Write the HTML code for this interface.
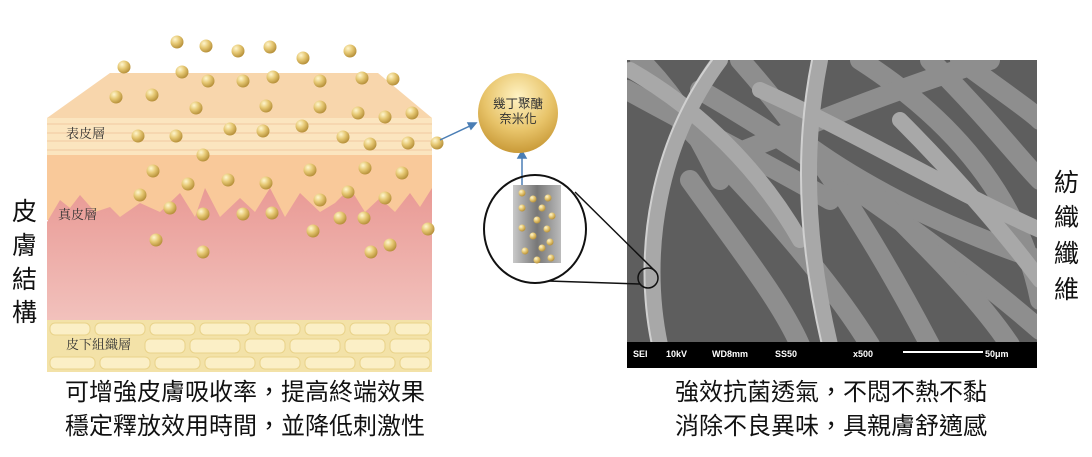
<!DOCTYPE html>
<html><head><meta charset="utf-8"><style>
body{margin:0;background:#fff;}
svg{display:block;}
text{font-family:"Liberation Sans","Noto Sans CJK TC",sans-serif;}
.s{font-family:"Noto Serif CJK SC","Liberation Serif",serif;}
</style></head><body>
<svg width="1092" height="457" viewBox="0 0 1092 457" xmlns="http://www.w3.org/2000/svg">
<defs>
<radialGradient id="b" cx="0.35" cy="0.3" r="0.7"><stop offset="0" stop-color="#fff6cf"/><stop offset="0.5" stop-color="#e6c873"/><stop offset="1" stop-color="#b8923c"/></radialGradient>
<radialGradient id="big" cx="0.5" cy="0.3" r="0.7"><stop offset="0" stop-color="#fff3c4"/><stop offset="0.6" stop-color="#e8c46a"/><stop offset="1" stop-color="#c99a38"/></radialGradient>
<linearGradient id="pk" x1="0" y1="0" x2="0" y2="1"><stop offset="0" stop-color="#e99a95"/><stop offset="1" stop-color="#f2c2bd"/></linearGradient>
<linearGradient id="gr" x1="0" x2="1"><stop offset="0" stop-color="#c9c9c9"/><stop offset="0.5" stop-color="#777"/><stop offset="1" stop-color="#bbb"/></linearGradient>
<clipPath id="sem"><rect x="627" y="60" width="410" height="283"/></clipPath>
</defs>
<polygon points="110,73 378,73 432,118 432,155 47,155 47,118" fill="#f8d6ac"/>
<rect x="47" y="118" width="385" height="37" fill="#fbe5bf"/>
<g stroke="#f2c9a0" stroke-width="1" fill="none"><path d="M47 124H432M47 133H432M47 141H432M47 150H432"/></g>
<rect x="47" y="155" width="385" height="65" fill="#f9c99a"/>
<path d="M47 222 L60 200 70 208 80 195 95 212 110 207 120 217 140 203 160 212 180 193 195 217 205 188 220 217 240 198 255 212 270 188 285 217 300 193 320 212 335 203 350 188 365 212 380 198 395 212 410 193 420 207 432 188 V322 H47Z" fill="url(#pk)"/>
<rect x="47" y="320" width="385" height="52" fill="#f3e2a8"/>
<g fill="#fbefc6" stroke="#e9d38a" stroke-width="1">
<rect x="50" y="323" width="40" height="12" rx="5"/><rect x="95" y="323" width="50" height="12" rx="5"/><rect x="150" y="323" width="45" height="12" rx="5"/><rect x="200" y="323" width="50" height="12" rx="5"/><rect x="255" y="323" width="45" height="12" rx="5"/><rect x="305" y="323" width="40" height="12" rx="5"/><rect x="350" y="323" width="40" height="12" rx="5"/><rect x="395" y="323" width="35" height="12" rx="5"/>
<rect x="145" y="339" width="40" height="14" rx="5"/><rect x="190" y="339" width="50" height="14" rx="5"/><rect x="245" y="339" width="40" height="14" rx="5"/><rect x="290" y="339" width="50" height="14" rx="5"/><rect x="345" y="339" width="40" height="14" rx="5"/><rect x="390" y="339" width="40" height="14" rx="5"/>
<rect x="50" y="357" width="45" height="12" rx="5"/><rect x="100" y="357" width="50" height="12" rx="5"/><rect x="155" y="357" width="45" height="12" rx="5"/><rect x="205" y="357" width="50" height="12" rx="5"/><rect x="260" y="357" width="40" height="12" rx="5"/><rect x="305" y="357" width="50" height="12" rx="5"/><rect x="360" y="357" width="35" height="12" rx="5"/><rect x="400" y="357" width="30" height="12" rx="5"/>
</g>
<g fill="url(#b)">
<circle cx="177" cy="42" r="6.5"/><circle cx="206" cy="46" r="6.5"/><circle cx="238" cy="51" r="6.5"/><circle cx="270" cy="47" r="6.5"/><circle cx="303" cy="58" r="6.5"/><circle cx="350" cy="51" r="6.5"/>
<circle cx="124" cy="67" r="6.5"/><circle cx="182" cy="72" r="6.5"/><circle cx="208" cy="81" r="6.5"/><circle cx="243" cy="81" r="6.5"/><circle cx="273" cy="77" r="6.5"/><circle cx="320" cy="81" r="6.5"/><circle cx="362" cy="78" r="6.5"/><circle cx="393" cy="79" r="6.5"/>
<circle cx="116" cy="97" r="6.5"/><circle cx="152" cy="95" r="6.5"/><circle cx="196" cy="108" r="6.5"/><circle cx="266" cy="106" r="6.5"/><circle cx="320" cy="107" r="6.5"/><circle cx="358" cy="113" r="6.5"/><circle cx="385" cy="117" r="6.5"/><circle cx="412" cy="113" r="6.5"/>
<circle cx="138" cy="136" r="6.5"/><circle cx="176" cy="136" r="6.5"/><circle cx="230" cy="129" r="6.5"/><circle cx="263" cy="131" r="6.5"/><circle cx="302" cy="126" r="6.5"/><circle cx="343" cy="137" r="6.5"/><circle cx="370" cy="144" r="6.5"/><circle cx="408" cy="143" r="6.5"/><circle cx="437" cy="143" r="6.5"/>
<circle cx="203" cy="155" r="6.5"/><circle cx="153" cy="171" r="6.5"/><circle cx="188" cy="184" r="6.5"/><circle cx="228" cy="180" r="6.5"/><circle cx="266" cy="183" r="6.5"/><circle cx="310" cy="170" r="6.5"/><circle cx="365" cy="168" r="6.5"/><circle cx="402" cy="173" r="6.5"/>
<circle cx="140" cy="195" r="6.5"/><circle cx="170" cy="208" r="6.5"/><circle cx="203" cy="214" r="6.5"/><circle cx="243" cy="214" r="6.5"/><circle cx="272" cy="213" r="6.5"/><circle cx="320" cy="200" r="6.5"/><circle cx="348" cy="192" r="6.5"/><circle cx="385" cy="198" r="6.5"/>
<circle cx="340" cy="218" r="6.5"/><circle cx="364" cy="218" r="6.5"/><circle cx="313" cy="231" r="6.5"/><circle cx="428" cy="229" r="6.5"/>
<circle cx="156" cy="240" r="6.5"/><circle cx="203" cy="252" r="6.5"/><circle cx="371" cy="252" r="6.5"/><circle cx="390" cy="245" r="6.5"/>
</g>
<text class="s" x="66" y="138" font-size="13" fill="#333">表皮層</text>
<text class="s" x="58" y="219" font-size="13" fill="#333">真皮層</text>
<text class="s" x="66" y="349" font-size="13" fill="#333">皮下組織層</text>
<g font-size="25" class="s" fill="#111"><text x="12" y="220">皮</text><text x="12" y="254">膚</text><text x="12" y="288">結</text><text x="12" y="321">構</text></g>
<g font-size="25" class="s" fill="#111"><text x="1054" y="191">紡</text><text x="1054" y="226">織</text><text x="1054" y="262">纖</text><text x="1054" y="298">維</text></g>
<g stroke="#4a7eb5" stroke-width="1.5" fill="#4a7eb5">
<line x1="440" y1="140" x2="472" y2="125"/><polygon points="476,123 468,123 471,129"/>
<line x1="522" y1="192" x2="522" y2="156"/><polygon points="522,151 518,158 526,158"/>
</g>
<circle cx="518" cy="113" r="40" fill="url(#big)"/>
<text x="518" y="108" font-size="12.5" text-anchor="middle" fill="#333">幾丁聚醣</text>
<text x="518" y="123" font-size="12.5" text-anchor="middle" fill="#333">奈米化</text>
<rect x="513" y="185" width="48" height="78" fill="url(#gr)"/>
<g fill="url(#b)"><circle cx="522" cy="193" r="3.5"/><circle cx="533" cy="199" r="3.5"/><circle cx="548" cy="198" r="3.5"/><circle cx="522" cy="208" r="3.5"/><circle cx="542" cy="208" r="3.5"/><circle cx="537" cy="220" r="3.5"/><circle cx="552" cy="216" r="3.5"/><circle cx="522" cy="228" r="3.5"/><circle cx="547" cy="229" r="3.5"/><circle cx="533" cy="236" r="3.5"/><circle cx="550" cy="242" r="3.5"/><circle cx="525" cy="251" r="3.5"/><circle cx="542" cy="248" r="3.5"/><circle cx="551" cy="258" r="3.5"/><circle cx="537" cy="260" r="3.5"/></g>
<ellipse cx="535" cy="229" rx="51" ry="54" fill="none" stroke="#111" stroke-width="2"/>
<rect x="627" y="60" width="410" height="308" fill="#5e5e5e"/>
<g clip-path="url(#sem)" fill="none" stroke-linecap="round">
<g stroke="#8e8e8e" stroke-width="20">
<path d="M860 60 C1000 150 1030 250 1040 300"/>
<path d="M700 90 C820 160 960 260 1040 330"/>
<path d="M740 60 C820 150 880 250 930 345"/>
<path d="M680 120 C760 200 830 280 870 345"/>
<path d="M930 60 C990 120 1020 160 1040 180"/>
<path d="M800 140 C880 200 980 240 1040 260"/>
<path d="M690 180 C740 250 780 300 800 345"/>
<path d="M720 160 C820 120 920 80 990 60"/>
<path d="M627 90 C700 130 760 160 830 200"/>
<path d="M880 200 C930 250 980 300 1010 345"/>
<path d="M960 60 C1000 90 1030 110 1040 120"/>
<path d="M640 60 C680 100 700 140 720 180"/>
</g>
<g stroke="#a8a8a8" stroke-width="16">
<path d="M720 60 C660 140 640 250 660 345"/>
<path d="M820 60 C800 160 810 260 830 345"/>
<path d="M630 70 C700 110 760 170 800 240"/>
<path d="M900 120 C960 180 1010 240 1040 280"/>
<path d="M760 90 C850 130 950 190 1040 230"/>
</g>
<g stroke="#d0d0d0" stroke-width="2">
<path d="M712 60 C652 140 632 250 652 345"/><path d="M812 60 C792 160 802 260 822 345"/>
</g>
</g>
<rect x="627" y="342" width="410" height="26" fill="#000"/>
<g font-size="9" fill="#fff" font-weight="bold"><text x="633" y="357">SEI</text><text x="666" y="357">10kV</text><text x="712" y="357">WD8mm</text><text x="775" y="357">SS50</text><text x="853" y="357">x500</text><text x="985" y="357">50μm</text></g>
<line x1="903" y1="352" x2="983" y2="352" stroke="#fff" stroke-width="2"/>
<ellipse cx="648" cy="278" rx="10" ry="10" fill="none" stroke="#111" stroke-width="1.5"/>
<line x1="575" y1="192" x2="656" y2="272" stroke="#111" stroke-width="1.5"/>
<line x1="548" y1="281" x2="640" y2="284" stroke="#111" stroke-width="1.5"/>
<g font-size="24" fill="#111" text-anchor="middle">
<text x="245" y="400">可增強皮膚吸收率，提高終端效果</text>
<text x="245" y="434">穩定釋放效用時間，並降低刺激性</text>
<text x="831" y="400">強效抗菌透氣，不悶不熱不黏</text>
<text x="831" y="434">消除不良異味，具親膚舒適感</text>
</g>
</svg>
</body></html>
